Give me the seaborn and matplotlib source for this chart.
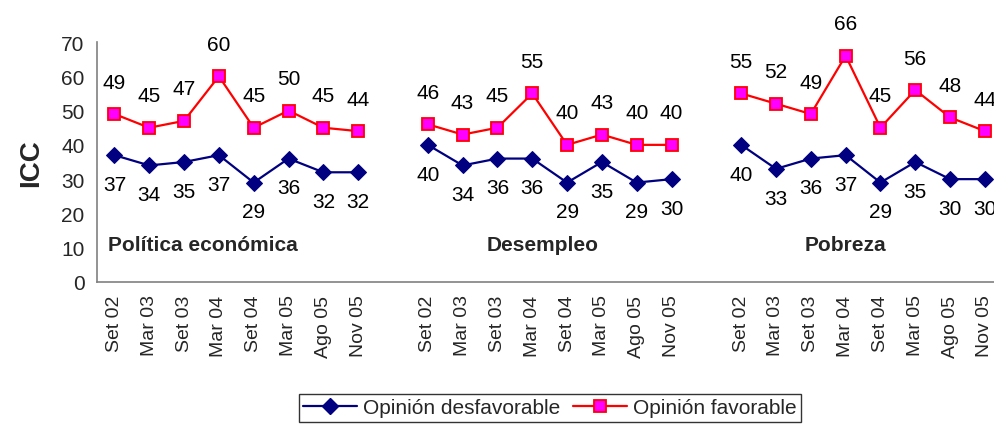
import matplotlib
matplotlib.use("Agg")
import matplotlib.pyplot as plt
import seaborn as sns
import pandas as pd
from matplotlib.lines import Line2D

# ---------------- data ----------------
periods = ["Set 02", "Mar 03", "Set 03", "Mar 04", "Set 04", "Mar 05", "Ago 05", "Nov 05"]
topics = ["Política económica", "Desempleo", "Pobreza"]

desfavorable = {
    "Política económica": [37, 34, 35, 37, 29, 36, 32, 32],
    "Desempleo": [40, 34, 36, 36, 29, 35, 29, 30],
    "Pobreza": [40, 33, 36, 37, 29, 35, 30, 30],
}
favorable = {
    "Política económica": [49, 45, 47, 60, 45, 50, 45, 44],
    "Desempleo": [46, 43, 45, 55, 40, 43, 40, 40],
    "Pobreza": [55, 52, 49, 66, 45, 56, 48, 44],
}
series_names = ["Opinión desfavorable", "Opinión favorable"]

# ---------------- build long table ----------------
rows = []
for g, topic in enumerate(topics):
    for i, per in enumerate(periods):
        pos = g * 9 + i
        rows.append({"pos": pos, "tema": topic, "serie": series_names[0], "valor": desfavorable[topic][i]})
        rows.append({"pos": pos, "tema": topic, "serie": series_names[1], "valor": favorable[topic][i]})
df = pd.DataFrame(rows)

sns.set_style("white")
plt.rcParams["font.family"] = ["Liberation Sans", "DejaVu Sans"]

fig = plt.figure(figsize=(9.95, 4.27), dpi=100)
ax = fig.add_axes([97 / 995, 144 / 427, 1 - 97 / 995, 240 / 427])

styles = {
    series_names[0]: dict(color="#000080", marker="D", markersize=8.5, markerfacecolor="#000080",
                          markeredgecolor="#000080", lw=1.6),
    series_names[1]: dict(color="#FF0000", marker="s", markersize=8.5, markerfacecolor="#FF00FF",
                          markeredgecolor="#FF0000", markeredgewidth=1.3, lw=1.6),
}

for topic in topics:
    for s in series_names:
        sub = df[(df.tema == topic) & (df.serie == s)]
        sns.lineplot(data=sub, x="pos", y="valor", ax=ax, legend=False, **styles[s])
        for _, r in sub.iterrows():
            dy = 23 if s == series_names[1] else -21
            ax.annotate(f"{r.valor:.0f}", (r.pos, r.valor), textcoords="offset points",
                        xytext=(0, dy), ha="center", va="center", fontsize=15, color="black")

# group titles
title_x = [2.55, 12.3, 21.0]
for tx, topic in zip(title_x, topics):
    ax.text(tx, 10.8, topic, ha="center", va="center", fontsize=15, fontweight="bold")

# axes styling
ax.set_xlim(-0.5, 25.29)
ax.set_ylim(0, 70)
ax.set_yticks(range(0, 71, 10))
centers = [g * 9 + i for g in range(3) for i in range(8)]
ax.set_xticks(centers)
ax.set_xticklabels(periods * 3, rotation=90, fontsize=14)
ax.set_xticks([x - 0.5 for x in range(26)], minor=True)
ax.tick_params(axis="x", which="major", length=0, pad=9)
ax.tick_params(axis="x", which="minor", length=5, width=1, color="#808080", direction="out")
ax.tick_params(axis="y", length=6, width=1, color="#808080", direction="out", labelsize=15, pad=3)
ax.set_xlabel("")
ax.set_ylabel("ICC", fontsize=20, fontweight="bold", labelpad=12)
for side in ["top", "right"]:
    ax.spines[side].set_visible(False)
for side in ["left", "bottom"]:
    ax.spines[side].set_color("#808080")
    ax.spines[side].set_linewidth(1.2)

handles = [
    Line2D([], [], **styles[series_names[0]]),
    Line2D([], [], **styles[series_names[1]]),
]
leg = fig.legend(handles, series_names, loc="center", bbox_to_anchor=(550 / 995, 1 - 409 / 427),
                 ncol=2, fontsize=15, frameon=True, fancybox=False, handlelength=2.6,
                 columnspacing=0.6, handletextpad=0.3, borderpad=0.2)
leg.get_frame().set_edgecolor("black")
leg.get_frame().set_linewidth(1.0)

fig.savefig("out.png", dpi=100)
